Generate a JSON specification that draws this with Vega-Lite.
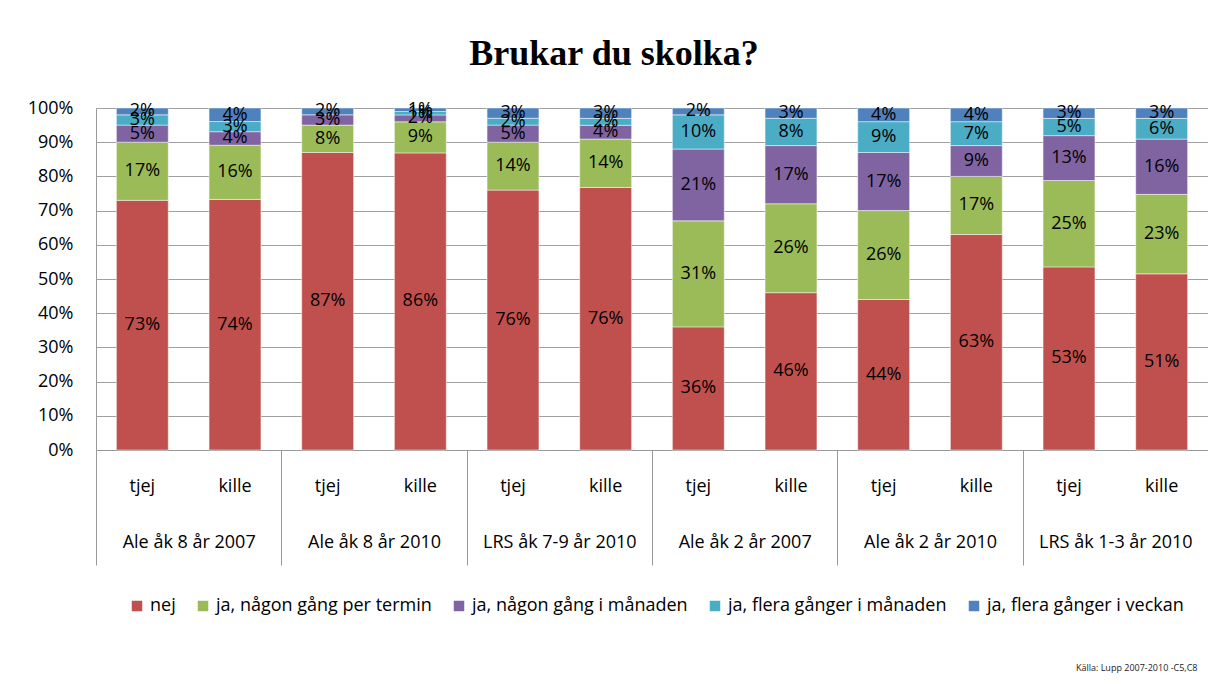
{
  "$schema": "https://vega.github.io/schema/vega-lite/v6.json",
  "autosize": {"type": "none"},
  "padding": {"left": 96, "top": 108, "right": 0, "bottom": 234},
  "width": 1112,
  "height": 342,
  "background": "white",
  "title": {
    "text": "Brukar du skolka?",
    "font": "Liberation Serif",
    "fontSize": 36,
    "fontWeight": "bold",
    "color": "#000000",
    "anchor": "middle",
    "dx": -38,
    "offset": 26
  },
  "config": {
    "font": "Open Sans",
    "view": {"stroke": null},
    "axis": {"labelFont": "Open Sans", "labelFontSize": 18, "labelColor": "#000000"}
  },
  "data": {
    "values": [
      {"group": "Ale åk 8 år 2007", "gender": "tjej", "cat": "nej", "k": 1, "value": 0.73},
      {"group": "Ale åk 8 år 2007", "gender": "tjej", "cat": "ja, någon gång per termin", "k": 2, "value": 0.17},
      {"group": "Ale åk 8 år 2007", "gender": "tjej", "cat": "ja, någon gång i månaden", "k": 3, "value": 0.05},
      {"group": "Ale åk 8 år 2007", "gender": "tjej", "cat": "ja, flera gånger i månaden", "k": 4, "value": 0.03},
      {"group": "Ale åk 8 år 2007", "gender": "tjej", "cat": "ja, flera gånger i veckan", "k": 5, "value": 0.02},
      {"group": "Ale åk 8 år 2007", "gender": "kille", "cat": "nej", "k": 1, "value": 0.74},
      {"group": "Ale åk 8 år 2007", "gender": "kille", "cat": "ja, någon gång per termin", "k": 2, "value": 0.16},
      {"group": "Ale åk 8 år 2007", "gender": "kille", "cat": "ja, någon gång i månaden", "k": 3, "value": 0.04},
      {"group": "Ale åk 8 år 2007", "gender": "kille", "cat": "ja, flera gånger i månaden", "k": 4, "value": 0.03},
      {"group": "Ale åk 8 år 2007", "gender": "kille", "cat": "ja, flera gånger i veckan", "k": 5, "value": 0.04},
      {"group": "Ale åk 8 år 2010", "gender": "tjej", "cat": "nej", "k": 1, "value": 0.87},
      {"group": "Ale åk 8 år 2010", "gender": "tjej", "cat": "ja, någon gång per termin", "k": 2, "value": 0.08},
      {"group": "Ale åk 8 år 2010", "gender": "tjej", "cat": "ja, någon gång i månaden", "k": 3, "value": 0.03},
      {"group": "Ale åk 8 år 2010", "gender": "tjej", "cat": "ja, flera gånger i veckan", "k": 5, "value": 0.02},
      {"group": "Ale åk 8 år 2010", "gender": "kille", "cat": "nej", "k": 1, "value": 0.86},
      {"group": "Ale åk 8 år 2010", "gender": "kille", "cat": "ja, någon gång per termin", "k": 2, "value": 0.09},
      {"group": "Ale åk 8 år 2010", "gender": "kille", "cat": "ja, någon gång i månaden", "k": 3, "value": 0.02},
      {"group": "Ale åk 8 år 2010", "gender": "kille", "cat": "ja, flera gånger i månaden", "k": 4, "value": 0.01},
      {"group": "Ale åk 8 år 2010", "gender": "kille", "cat": "ja, flera gånger i veckan", "k": 5, "value": 0.01},
      {"group": "LRS åk 7-9 år 2010", "gender": "tjej", "cat": "nej", "k": 1, "value": 0.76},
      {"group": "LRS åk 7-9 år 2010", "gender": "tjej", "cat": "ja, någon gång per termin", "k": 2, "value": 0.14},
      {"group": "LRS åk 7-9 år 2010", "gender": "tjej", "cat": "ja, någon gång i månaden", "k": 3, "value": 0.05},
      {"group": "LRS åk 7-9 år 2010", "gender": "tjej", "cat": "ja, flera gånger i månaden", "k": 4, "value": 0.02},
      {"group": "LRS åk 7-9 år 2010", "gender": "tjej", "cat": "ja, flera gånger i veckan", "k": 5, "value": 0.03},
      {"group": "LRS åk 7-9 år 2010", "gender": "kille", "cat": "nej", "k": 1, "value": 0.76},
      {"group": "LRS åk 7-9 år 2010", "gender": "kille", "cat": "ja, någon gång per termin", "k": 2, "value": 0.14},
      {"group": "LRS åk 7-9 år 2010", "gender": "kille", "cat": "ja, någon gång i månaden", "k": 3, "value": 0.04},
      {"group": "LRS åk 7-9 år 2010", "gender": "kille", "cat": "ja, flera gånger i månaden", "k": 4, "value": 0.02},
      {"group": "LRS åk 7-9 år 2010", "gender": "kille", "cat": "ja, flera gånger i veckan", "k": 5, "value": 0.03},
      {"group": "Ale åk 2 år 2007", "gender": "tjej", "cat": "nej", "k": 1, "value": 0.36},
      {"group": "Ale åk 2 år 2007", "gender": "tjej", "cat": "ja, någon gång per termin", "k": 2, "value": 0.31},
      {"group": "Ale åk 2 år 2007", "gender": "tjej", "cat": "ja, någon gång i månaden", "k": 3, "value": 0.21},
      {"group": "Ale åk 2 år 2007", "gender": "tjej", "cat": "ja, flera gånger i månaden", "k": 4, "value": 0.10},
      {"group": "Ale åk 2 år 2007", "gender": "tjej", "cat": "ja, flera gånger i veckan", "k": 5, "value": 0.02},
      {"group": "Ale åk 2 år 2007", "gender": "kille", "cat": "nej", "k": 1, "value": 0.46},
      {"group": "Ale åk 2 år 2007", "gender": "kille", "cat": "ja, någon gång per termin", "k": 2, "value": 0.26},
      {"group": "Ale åk 2 år 2007", "gender": "kille", "cat": "ja, någon gång i månaden", "k": 3, "value": 0.17},
      {"group": "Ale åk 2 år 2007", "gender": "kille", "cat": "ja, flera gånger i månaden", "k": 4, "value": 0.08},
      {"group": "Ale åk 2 år 2007", "gender": "kille", "cat": "ja, flera gånger i veckan", "k": 5, "value": 0.03},
      {"group": "Ale åk 2 år 2010", "gender": "tjej", "cat": "nej", "k": 1, "value": 0.44},
      {"group": "Ale åk 2 år 2010", "gender": "tjej", "cat": "ja, någon gång per termin", "k": 2, "value": 0.26},
      {"group": "Ale åk 2 år 2010", "gender": "tjej", "cat": "ja, någon gång i månaden", "k": 3, "value": 0.17},
      {"group": "Ale åk 2 år 2010", "gender": "tjej", "cat": "ja, flera gånger i månaden", "k": 4, "value": 0.09},
      {"group": "Ale åk 2 år 2010", "gender": "tjej", "cat": "ja, flera gånger i veckan", "k": 5, "value": 0.04},
      {"group": "Ale åk 2 år 2010", "gender": "kille", "cat": "nej", "k": 1, "value": 0.63},
      {"group": "Ale åk 2 år 2010", "gender": "kille", "cat": "ja, någon gång per termin", "k": 2, "value": 0.17},
      {"group": "Ale åk 2 år 2010", "gender": "kille", "cat": "ja, någon gång i månaden", "k": 3, "value": 0.09},
      {"group": "Ale åk 2 år 2010", "gender": "kille", "cat": "ja, flera gånger i månaden", "k": 4, "value": 0.07},
      {"group": "Ale åk 2 år 2010", "gender": "kille", "cat": "ja, flera gånger i veckan", "k": 5, "value": 0.04},
      {"group": "LRS åk 1-3 år 2010", "gender": "tjej", "cat": "nej", "k": 1, "value": 0.53},
      {"group": "LRS åk 1-3 år 2010", "gender": "tjej", "cat": "ja, någon gång per termin", "k": 2, "value": 0.25},
      {"group": "LRS åk 1-3 år 2010", "gender": "tjej", "cat": "ja, någon gång i månaden", "k": 3, "value": 0.13},
      {"group": "LRS åk 1-3 år 2010", "gender": "tjej", "cat": "ja, flera gånger i månaden", "k": 4, "value": 0.05},
      {"group": "LRS åk 1-3 år 2010", "gender": "tjej", "cat": "ja, flera gånger i veckan", "k": 5, "value": 0.03},
      {"group": "LRS åk 1-3 år 2010", "gender": "kille", "cat": "nej", "k": 1, "value": 0.51},
      {"group": "LRS åk 1-3 år 2010", "gender": "kille", "cat": "ja, någon gång per termin", "k": 2, "value": 0.23},
      {"group": "LRS åk 1-3 år 2010", "gender": "kille", "cat": "ja, någon gång i månaden", "k": 3, "value": 0.16},
      {"group": "LRS åk 1-3 år 2010", "gender": "kille", "cat": "ja, flera gånger i månaden", "k": 4, "value": 0.06},
      {"group": "LRS åk 1-3 år 2010", "gender": "kille", "cat": "ja, flera gånger i veckan", "k": 5, "value": 0.03}
    ]
  },
  "encoding": {
    "x": {
      "field": "group",
      "type": "nominal",
      "sort": null,
      "scale": {"paddingInner": 0, "paddingOuter": 0},
      "axis": {
        "title": "Källa: Lupp 2007-2010 -C5,C8",
        "titleFont": "Open Sans",
        "titleFontSize": 9,
        "titleFontWeight": "normal",
        "titleColor": "#222222",
        "titleAlign": "right",
        "titleAnchor": "end",
        "titleX": 1101,
        "titleY": 213,
        "labelAngle": 0,
        "labelPadding": -32,
        "labelBaseline": "top",
        "labelOverlap": false,
        "ticks": true,
        "tickBand": "extent",
        "tickSize": 115,
        "tickColor": "#999999",
        "domainColor": "#999999",
        "grid": false
      }
    },
    "xOffset": {
      "field": "gender",
      "type": "nominal",
      "sort": ["tjej", "kille"],
      "scale": {"paddingInner": 0.44, "paddingOuter": 0.22}
    }
  },
  "layer": [
    {
      "mark": {"type": "bar", "stroke": "#ffffff", "strokeWidth": 0.8, "strokeOpacity": 0.6},
      "encoding": {
        "y": {
          "field": "value",
          "type": "quantitative",
          "stack": "normalize",
          "scale": {"domain": [0, 1], "nice": false},
          "axis": {
            "title": null,
            "values": [0, 0.1, 0.2, 0.3, 0.4, 0.5, 0.6, 0.7, 0.8, 0.9, 1],
            "format": ".0%",
            "ticks": false,
            "labelPadding": 23,
            "labelOverlap": false,
            "labelBaseline": "middle",
            "domainColor": "#999999",
            "gridColor": "#a0a0a0",
            "gridWidth": 1
          }
        },
        "color": {
          "field": "cat",
          "type": "nominal",
          "sort": ["nej", "ja, någon gång per termin", "ja, någon gång i månaden", "ja, flera gånger i månaden", "ja, flera gånger i veckan"],
          "scale": {
            "domain": ["nej", "ja, någon gång per termin", "ja, någon gång i månaden", "ja, flera gånger i månaden", "ja, flera gånger i veckan"],
            "range": ["#C0504D", "#9BBB59", "#8064A2", "#4BACC6", "#4F81BD"]
          },
          "legend": {
            "title": null,
            "orient": "none",
            "direction": "horizontal",
            "legendX": 32,
            "legendY": 489,
            "symbolType": "square",
            "symbolSize": 110,
            "symbolStrokeWidth": 0,
            "labelFont": "Open Sans",
            "labelFontSize": 18,
            "labelColor": "#000000",
            "labelOffset": 4,
            "columnPadding": 18,
            "labelLimit": 400
          }
        },
        "order": {"field": "k", "type": "quantitative", "sort": "ascending"}
      }
    },
    {
      "mark": {"type": "text", "font": "Open Sans", "fontSize": 18, "color": "#000000", "baseline": "middle"},
      "encoding": {
        "y": {
          "field": "value",
          "type": "quantitative",
          "stack": "normalize",
          "bandPosition": 0.5,
          "axis": {
            "title": null,
            "values": [0, 0.1, 0.2, 0.3, 0.4, 0.5, 0.6, 0.7, 0.8, 0.9, 1],
            "format": ".0%",
            "ticks": false,
            "labelPadding": 23,
            "labelOverlap": false,
            "labelBaseline": "middle",
            "domainColor": "#999999",
            "gridColor": "#a0a0a0",
            "gridWidth": 1
          }
        },
        "detail": {"field": "cat"},
        "order": {"field": "k", "type": "quantitative", "sort": "ascending"},
        "text": {"field": "value", "type": "quantitative", "format": ".0%"}
      }
    },
    {
      "mark": {"type": "text", "font": "Open Sans", "fontSize": 18, "color": "#000000", "baseline": "middle"},
      "transform": [{"filter": "datum.k == 1"}],
      "encoding": {
        "y": {
          "datum": -0.108,
          "axis": {
            "title": null,
            "values": [0, 0.1, 0.2, 0.3, 0.4, 0.5, 0.6, 0.7, 0.8, 0.9, 1],
            "format": ".0%",
            "ticks": false,
            "labelPadding": 23,
            "labelOverlap": false,
            "labelBaseline": "middle",
            "domainColor": "#999999",
            "gridColor": "#a0a0a0",
            "gridWidth": 1
          }
        },
        "text": {"field": "gender"}
      }
    }
  ]
}
